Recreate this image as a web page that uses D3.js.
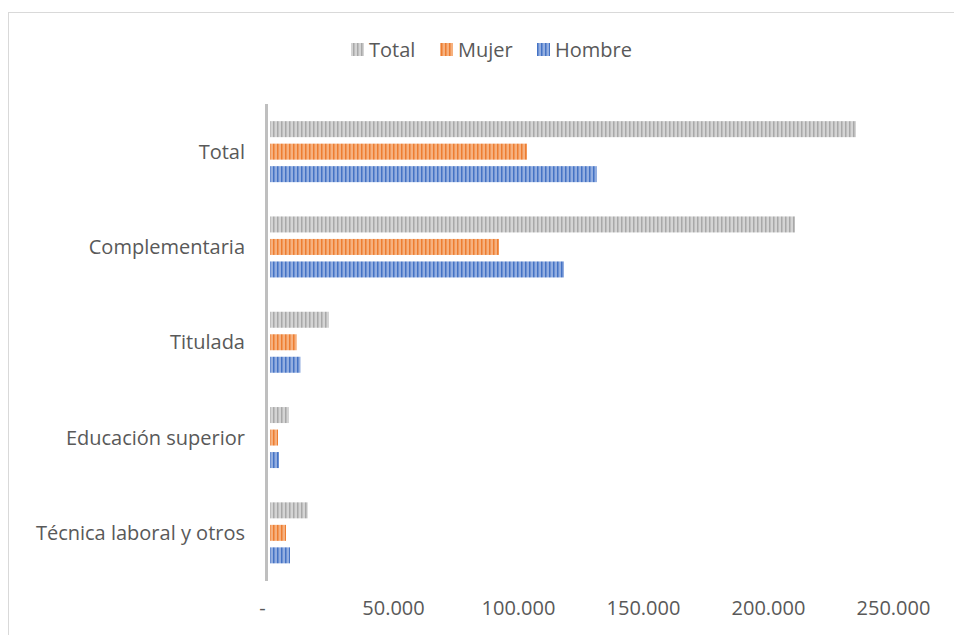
<!DOCTYPE html>
<html><head><meta charset="utf-8">
<script src="https://cdn.jsdelivr.net/npm/d3@7"></script>
<style>body{margin:0;background:#fff;} svg{display:block;}</style>
</head><body>
<script>
const categories = ["Total", "Complementaria", "Titulada", "Educación superior", "Técnica laboral y otros"];
const seriesNames = ["Total", "Mujer", "Hombre"];
const totalValues = [235200, 210800, 24400, 8400, 15900];
const mujerValues = [103600, 92400, 11500, 4000, 7200];
const hombreValues = [131600, 118400, 13000, 4400, 8800];
const tickValues = [0, 50000, 100000, 150000, 200000, 250000];
const tickLabels = ["-", "50.000", "100.000", "150.000", "200.000", "250.000"];

const seriesValues = [totalValues, mujerValues, hombreValues];
const colors = [
  {bg: "#d4d4d4", fg: "#a8a8a8"},
  {bg: "#f6b17f", fg: "#ed7d31"},
  {bg: "#93aee0", fg: "#4472c4"}
];

const W = 954, H = 635;
const svg = d3.select("body").append("svg").attr("width", W).attr("height", H);
const defs = svg.append("defs");
colors.forEach((c, i) => {
  const p = defs.append("pattern").attr("id", "pat" + i).attr("patternUnits", "userSpaceOnUse")
    .attr("width", 4).attr("height", 4);
  p.append("rect").attr("width", 4).attr("height", 4).attr("fill", c.bg);
  p.append("rect").attr("x", 1).attr("width", 1.5).attr("height", 4).attr("fill", c.fg);
});

// chart border
svg.append("rect").attr("x", 8.5).attr("y", 12.5).attr("width", W + 20).attr("height", H + 20)
  .attr("fill", "none").attr("stroke", "#d9d9d9").attr("stroke-width", 1);

const font = "'Open Sans', sans-serif";
const fs = 20;
const x = d3.scaleLinear().domain([0, 250000]).range([268, 893]);
const yb = d3.scaleBand().domain(categories).range([104, 580.5]);
const barStep = 22.5, barH = 16;
const sub = d3.scaleBand().domain(seriesNames).range([-barStep * 1.5, barStep * 1.5]);

const g = svg.append("g");
seriesNames.forEach((s, si) => {
  g.selectAll(".b" + si).data(categories).join("rect")
    .attr("x", x(0) + 2)
    .attr("y", (d) => yb(d) + yb.bandwidth() / 2 + sub(s) + (barStep - barH) / 2)
    .attr("width", (d, i) => Math.max(0, x(seriesValues[si][i]) - x(0) - 2))
    .attr("height", barH)
    .attr("fill", `url(#pat${si})`);
});

// axis line
svg.append("line").attr("x1", x(0) - 1.5).attr("x2", x(0) - 1.5).attr("y1", 104).attr("y2", 581)
  .attr("stroke", "#bfbfbf").attr("stroke-width", 3);

// category labels
svg.selectAll(".cat").data(categories).join("text")
  .attr("x", 245).attr("y", d => yb(d) + yb.bandwidth() / 2)
  .attr("dy", "0.35em").attr("text-anchor", "end")
  .attr("font-family", font).attr("font-size", fs).attr("fill", "#595959").text(d => d);

// tick labels via axis
const axis = d3.axisBottom(x).tickValues(tickValues).tickFormat((d, i) => tickLabels[i]).tickSize(0).tickPadding(0);
const ax = svg.append("g").attr("transform", "translate(0,601)").call(axis);
ax.select(".domain").remove();
ax.selectAll("text").attr("font-family", font).attr("font-size", fs).attr("fill", "#595959")
  .attr("dy", "0.71em")
  .attr("dx", (d) => d === 0 ? -6 : 0);

// legend
const legendItems = [
  {name: "Total", sx: 351, tx: 369},
  {name: "Mujer", sx: 440, tx: 458},
  {name: "Hombre", sx: 537, tx: 555}
];
const lg = svg.append("g");
legendItems.forEach((it, i) => {
  lg.append("rect").attr("x", it.sx).attr("y", 43).attr("width", 13).attr("height", 13).attr("fill", `url(#pat${i})`);
  lg.append("text").attr("x", it.tx).attr("y", 50).attr("dy", "0.35em")
    .attr("font-family", font).attr("font-size", fs).attr("fill", "#595959").text(it.name);
});
</script>
</body></html>
